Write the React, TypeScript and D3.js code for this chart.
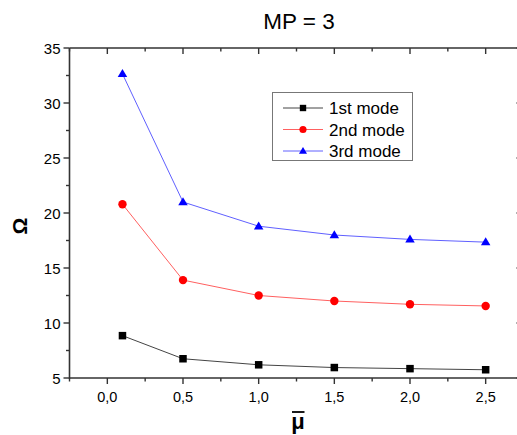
import React from 'react';
import * as d3 from 'd3';

// data
const mu = [0.1, 0.5, 1.0, 1.5, 2.0, 2.5];
const mode1 = [8.85, 6.75, 6.2, 5.95, 5.85, 5.75];
const mode2 = [20.8, 13.9, 12.5, 12.0, 11.7, 11.55];
const mode3 = [32.65, 21.0, 18.8, 18.0, 17.6, 17.35];
const seriesNames = ['1st mode', '2nd mode', '3rd mode'];
const xTicks = [0, 0.5, 1.0, 1.5, 2.0, 2.5];
const yTicks = [5, 10, 15, 20, 25, 30, 35];

const W = 517;
const H = 435;
const font = '"Liberation Sans", Arial, sans-serif';

const series = [
  { name: seriesNames[0], values: mode1, line: '#444444', fill: '#000000', shape: 'square' },
  { name: seriesNames[1], values: mode2, line: '#ff6060', fill: '#ff0000', shape: 'circle' },
  { name: seriesNames[2], values: mode3, line: '#6060ff', fill: '#0000ff', shape: 'triangle' },
];

const Marker = ({ shape, x, y, fill, s = 1 }: any) => {
  if (shape === 'square') {
    const a = 7.5 * s;
    return <rect x={x - a / 2} y={y - a / 2} width={a} height={a} fill={fill} />;
  }
  if (shape === 'circle') return <circle cx={x} cy={y} r={4.2 * s} fill={fill} />;
  const h = 8 * s;
  const w = 9.5 * s;
  return (
    <path
      d={`M${x},${y - h * 0.6} L${x + w / 2},${y + h * 0.4} L${x - w / 2},${y + h * 0.4} Z`}
      fill={fill}
    />
  );
};

export default function App() {
  const x = d3.scaleLinear().domain([-0.25, 2.75]).range([69.5, 523.5]);
  const y = d3.scaleLinear().domain([5, 35]).range([378, 48]);

  const line = d3
    .line<number>()
    .x((d, i) => x(mu[i]))
    .y((d) => y(d));

  const xMinor = d3.range(-0.25, 2.76, 0.25).filter((v) => Math.abs((v * 2) % 1) > 0.01);
  const yMinor = d3.range(7.5, 35, 5);
  const axisColor = '#333333';
  const [x0, x1] = x.range();
  const [y0, y1] = y.range();

  return (
    <svg
      width={W}
      height={H}
      style={{ position: 'absolute', left: 0, top: 0, background: '#fff' }}
      fontFamily={font}
    >
      <rect width={W} height={H} fill="#fff" />
      <text x={299} y={29} textAnchor="middle" fontSize={22.5}>
        MP = 3
      </text>

      {/* series */}
      {series.map((s) => (
        <g key={s.name}>
          <path d={line(s.values) || ''} fill="none" stroke={s.line} strokeWidth={1} />
          {s.values.map((v, i) => (
            <Marker key={i} shape={s.shape} x={x(mu[i])} y={y(v)} fill={s.fill} />
          ))}
        </g>
      ))}

      {/* frame */}
      <g stroke={axisColor} strokeWidth={1.6}>
        <line x1={x0} x2={x0} y1={y1} y2={y0 + 0.8} />
        <line x1={x0} x2={x1} y1={y0} y2={y0} />
        <line x1={x0} x2={x1} y1={y1} y2={y1} />
        <line x1={x1} x2={x1} y1={y1} y2={y0} />
      </g>
      <g stroke={axisColor} strokeWidth={1.4}>
        {xTicks.map((t) => (
          <g key={'xt' + t}>
            <line x1={x(t)} x2={x(t)} y1={y0} y2={y0 + 6} />
            <line x1={x(t)} x2={x(t)} y1={y1} y2={y1 + 6} />
          </g>
        ))}
        {xMinor.map((t) => (
          <g key={'xm' + t}>
            <line x1={x(t)} x2={x(t)} y1={y0} y2={y0 + 3.5} />
            <line x1={x(t)} x2={x(t)} y1={y1} y2={y1 + 3.5} />
          </g>
        ))}
        {yTicks.map((t) => (
          <g key={'yt' + t}>
            <line x1={x0 - 6} x2={x0} y1={y(t)} y2={y(t)} />
            <line x1={x1 - 7} x2={x1} y1={y(t)} y2={y(t)} />
          </g>
        ))}
        {yMinor.map((t) => (
          <g key={'ym' + t}>
            <line x1={x0 - 3.5} x2={x0} y1={y(t)} y2={y(t)} />
            <line x1={x1 - 4} x2={x1} y1={y(t)} y2={y(t)} />
          </g>
        ))}
      </g>

      {/* tick labels */}
      {xTicks.map((t) => (
        <text key={'xl' + t} x={x(t)} y={y0 + 24} textAnchor="middle" fontSize={14.5}>
          {d3.format('.1f')(t).replace('.', ',')}
        </text>
      ))}
      {yTicks.map((t) => (
        <text key={'yl' + t} x={x0 - 9} y={y(t) + 5.5} textAnchor="end" fontSize={15}>
          {t}
        </text>
      ))}

      {/* axis titles */}
      <text
        transform={`translate(27,226) rotate(-90)`}
        textAnchor="middle"
        fontSize={21}
        fontWeight="bold"
      >
        Ω
      </text>
      <text x={298} y={429} textAnchor="middle" fontSize={22} fontWeight="bold">
        μ
      </text>
      <line x1={292} x2={304.5} y1={412} y2={412} stroke="#000" strokeWidth={1.8} />

      {/* legend */}
      <rect x={272.5} y={92.5} width={140} height={68} fill="#fff" stroke="#777" strokeWidth={1} />
      {series.map((s, i) => {
        const cy = 108 + i * 21.5;
        return (
          <g key={'lg' + s.name}>
            <line x1={283} x2={323} y1={cy} y2={cy} stroke={s.line} strokeWidth={1} />
            <Marker shape={s.shape} x={303} y={cy} fill={s.fill} s={0.85} />
            <text x={329} y={cy + 6} fontSize={17}>
              {s.name}
            </text>
          </g>
        );
      })}
    </svg>
  );
}
